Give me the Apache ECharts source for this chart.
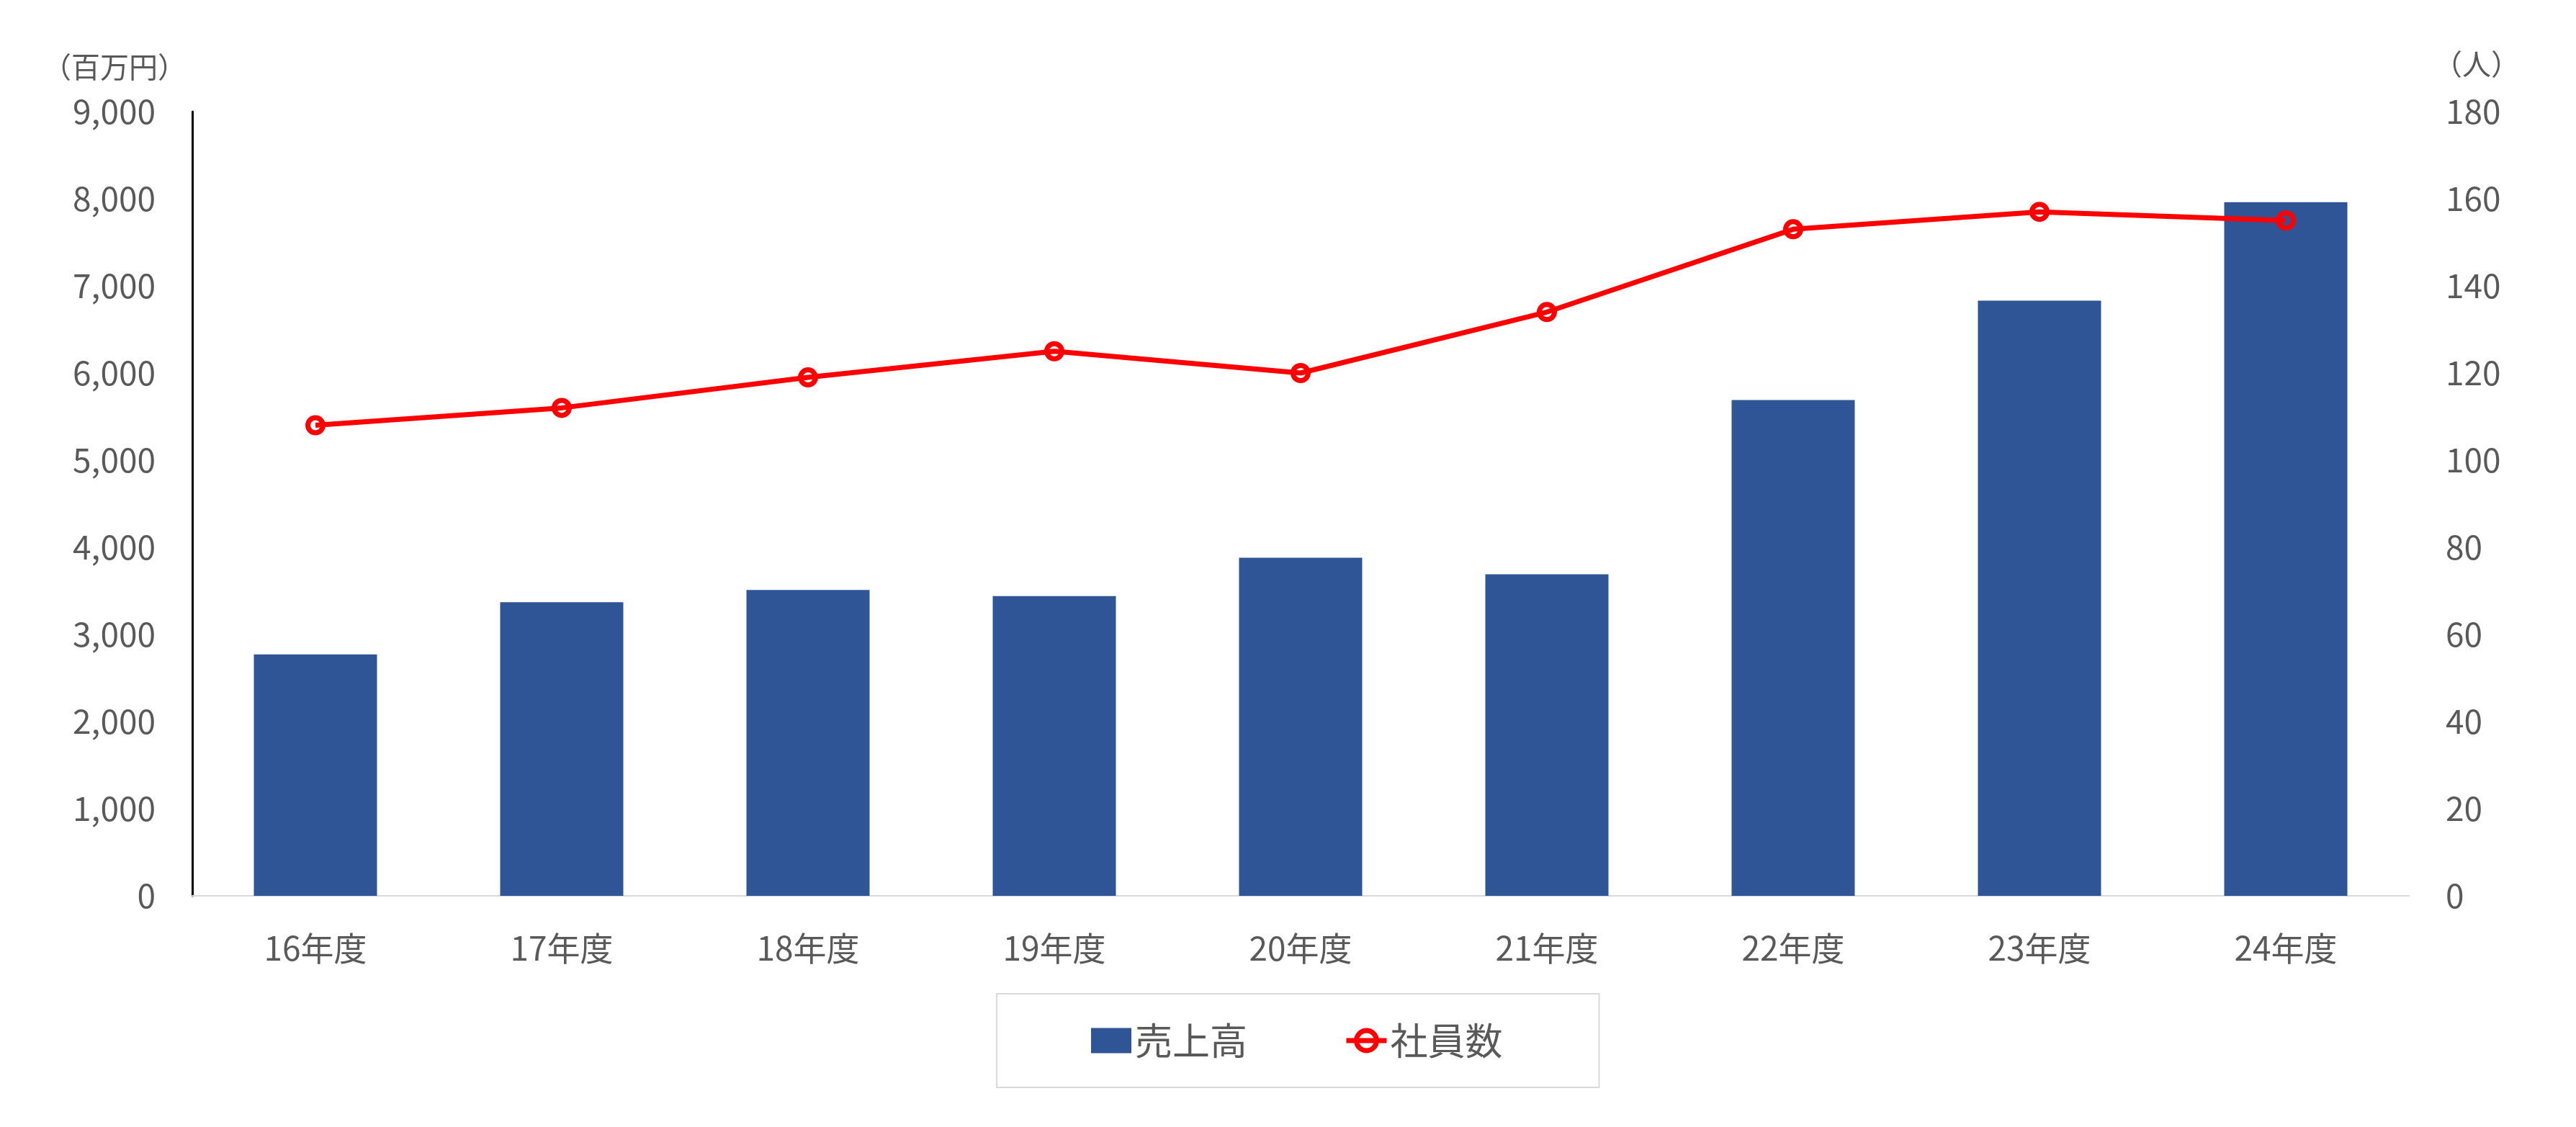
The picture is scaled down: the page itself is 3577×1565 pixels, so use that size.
<!DOCTYPE html>
<html>
<head>
<meta charset="utf-8">
<script src="https://cdn.jsdelivr.net/npm/echarts@6/dist/echarts.min.js"></script>
<style>
  html, body { margin: 0; padding: 0; background: #fff; }
  #main { width: 3577px; height: 1565px; }
</style>
</head>
<body>
<div id="main"></div>
<script>
// データ
var years = ['16年度', '17年度', '18年度', '19年度', '20年度', '21年度', '22年度', '23年度', '24年度'];
var sales = [2770, 3370, 3510, 3440, 3880, 3690, 5690, 6830, 7960];
var staff = [108, 112, 119, 125, 120, 134, 153, 157, 155];
var salesTicks = [0, 9000, 1000];
var staffTicks = [0, 180, 20];

var font = '"Noto Sans CJK JP", "Noto Sans", sans-serif';
var gray = '#595959';

var myChart = echarts.init(document.getElementById('main'));

var option = {
    backgroundColor: '#ffffff',
    textStyle: { fontFamily: font },
    grid: { left: 267, right: 232, top: 155, bottom: 321, containLabel: false },
    legend: {
        data: [
            { name: '売上高', icon: 'rect' },
            {
                name: '社員数',
                lineStyle: { width: 7, color: '#ff0000' },
                itemStyle: { color: 'rgba(255,255,255,0)', borderColor: '#ff0000', borderWidth: 7 }
            }
        ],
        left: 1384,
        top: 1380,
        orient: 'horizontal',
        padding: [39, 134, 39, 131],
        itemGap: 134,
        itemWidth: 56,
        itemHeight: 35,
        borderColor: '#d9d9d9',
        borderWidth: 2,
        textStyle: { fontSize: 52, lineHeight: 52, color: gray, fontFamily: font }
    },
    xAxis: [{
        type: 'category',
        data: years,
        axisLine: { show: true, lineStyle: { color: '#d9d9d9', width: 2 } },
        axisTick: { show: false },
        axisLabel: { color: gray, fontSize: 46, lineHeight: 46, margin: 50, fontFamily: font },
        splitLine: { show: false }
    }],
    yAxis: [
        {
            type: 'value',
            min: salesTicks[0],
            max: salesTicks[1],
            interval: salesTicks[2],
            name: '（百万円）',
            nameLocation: 'end',
            nameGap: 62,
            nameTextStyle: { color: gray, fontSize: 40, align: 'right', verticalAlign: 'middle', padding: [0, 8, 0, 0], fontFamily: font },
            axisLine: { show: true, lineStyle: { color: '#000000', width: 3 } },
            axisTick: { show: false },
            splitLine: { show: false },
            axisLabel: {
                color: gray, fontSize: 46, margin: 51, fontFamily: font,
                padding: [0, 0, 12, 0],
                formatter: function (v) { return v.toLocaleString('en-US'); }
            }
        },
        {
            type: 'value',
            min: staffTicks[0],
            max: staffTicks[1],
            interval: staffTicks[2],
            name: '（人）',
            nameLocation: 'end',
            nameGap: 66,
            nameTextStyle: { color: gray, fontSize: 40, align: 'left', verticalAlign: 'middle', padding: [0, 0, 0, 34], fontFamily: font },
            axisLine: { show: false },
            axisTick: { show: false },
            splitLine: { show: false },
            axisLabel: { color: gray, fontSize: 46, margin: 51, padding: [0, 0, 12, 0], fontFamily: font }
        }
    ],
    series: [
        {
            name: '売上高',
            type: 'bar',
            yAxisIndex: 0,
            barWidth: '50%',
            itemStyle: { color: '#2F5597' },
            data: sales
        },
        {
            name: '社員数',
            type: 'line',
            yAxisIndex: 1,
            symbol: 'circle',
            symbolSize: 21,
            lineStyle: { color: '#ff0000', width: 7 },
            itemStyle: { color: 'rgba(255,255,255,0)', borderColor: '#ff0000', borderWidth: 7 },
            data: staff
        }
    ]
};

myChart.setOption(option);
</script>
</body>
</html>
